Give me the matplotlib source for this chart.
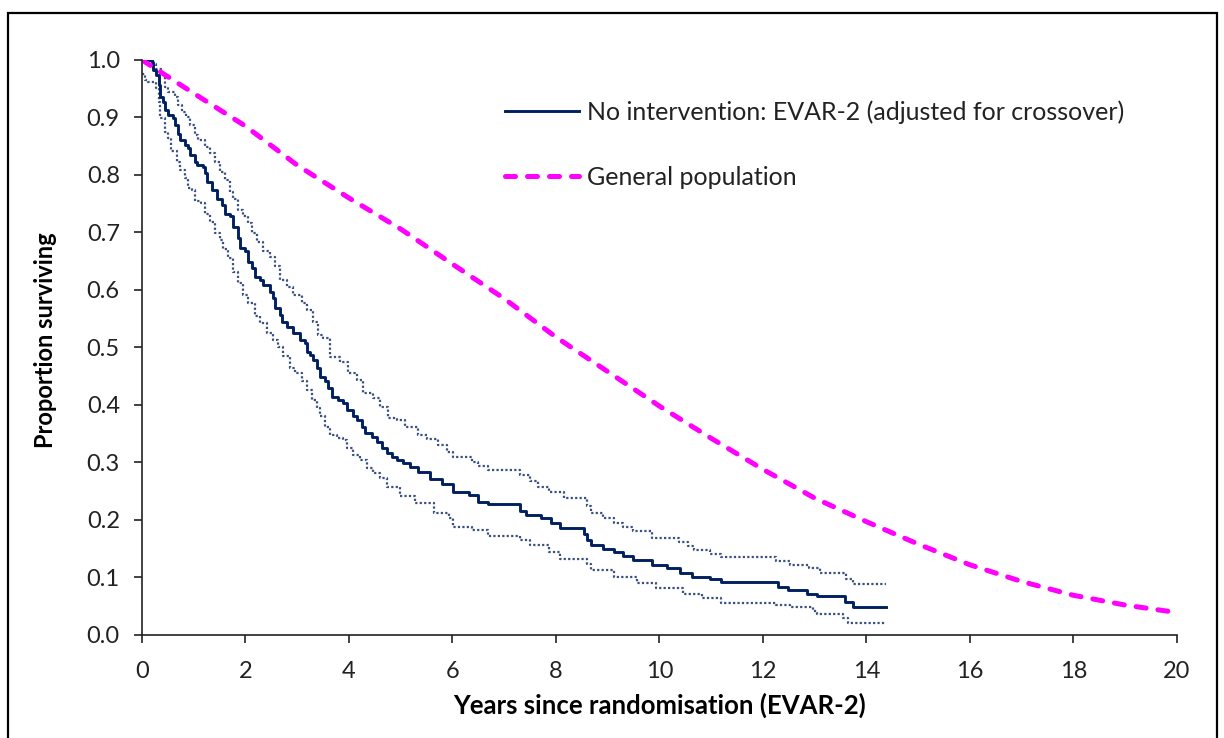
import numpy as np
import matplotlib
matplotlib.use("Agg")
import matplotlib.pyplot as plt
from matplotlib.patches import Rectangle

plt.rcParams['font.family'] = ['Lato', 'DejaVu Sans']

# no intervention (EVAR-2, adjusted for crossover): step points
km_t = [0, 0.19, 0.22, 0.28, 0.32, 0.35, 0.41, 0.44, 0.51, 0.60, 0.64, 0.70, 0.73,
        0.83, 0.89, 0.93, 1.02, 1.06, 1.18, 1.22, 1.25, 1.35, 1.44, 1.54, 1.60, 1.70,
        1.76, 1.86, 1.89, 1.99, 2.05, 2.12, 2.18, 2.28, 2.34, 2.47, 2.54, 2.57, 2.67,
        2.70, 2.80, 2.92, 3.05, 3.15, 3.18, 3.25, 3.31, 3.38, 3.44, 3.54, 3.60, 3.67,
        3.79, 3.89, 3.96, 4.08, 4.15, 4.25, 4.31, 4.44, 4.54, 4.63, 4.73, 4.83, 4.92,
        5.05, 5.18, 5.34, 5.57, 5.79, 6.01, 6.31, 6.49, 6.68, 7.30, 7.42, 7.72, 7.90,
        8.08, 8.55, 8.60, 8.67, 8.90, 9.12, 9.30, 9.49, 9.86, 10.15, 10.40, 10.63,
        10.97, 11.19, 12.29, 12.48, 12.85, 13.04, 13.58, 13.74, 14.38]
km_s = [1.0, 0.997, 0.983, 0.974, 0.957, 0.936, 0.927, 0.913, 0.904, 0.899, 0.887,
        0.872, 0.861, 0.852, 0.847, 0.835, 0.823, 0.817, 0.814, 0.803, 0.788, 0.774,
        0.759, 0.748, 0.733, 0.728, 0.710, 0.690, 0.673, 0.667, 0.649, 0.638, 0.623,
        0.617, 0.609, 0.597, 0.586, 0.568, 0.557, 0.545, 0.536, 0.525, 0.513, 0.507,
        0.493, 0.487, 0.478, 0.464, 0.449, 0.441, 0.429, 0.414, 0.409, 0.403, 0.391,
        0.380, 0.374, 0.362, 0.351, 0.345, 0.336, 0.325, 0.316, 0.310, 0.304, 0.299,
        0.293, 0.284, 0.272, 0.262, 0.248, 0.243, 0.232, 0.227, 0.215, 0.209, 0.203,
        0.195, 0.186, 0.175, 0.165, 0.157, 0.150, 0.145, 0.138, 0.130, 0.122, 0.116,
        0.108, 0.101, 0.097, 0.092, 0.084, 0.079, 0.072, 0.067, 0.058, 0.048, 0.048]

# upper 95% CI
up_t = [0, 0.22, 0.28, 0.38, 0.44, 0.51, 0.64, 0.70, 0.77, 0.86, 0.93, 1.02, 1.09,
        1.22, 1.31, 1.41, 1.51, 1.60, 1.70, 1.76, 1.86, 1.96, 2.05, 2.12, 2.22, 2.34,
        2.47, 2.57, 2.67, 2.80, 2.92, 3.09, 3.18, 3.31, 3.41, 3.50, 3.63, 3.83, 3.99,
        4.15, 4.28, 4.47, 4.60, 4.76, 4.92, 5.08, 5.34, 5.50, 5.72, 5.90, 6.01, 6.38,
        6.50, 6.68, 7.30, 7.49, 7.65, 7.86, 8.15, 8.60, 8.67, 8.90, 9.12, 9.30, 9.49,
        9.86, 10.37, 10.55, 10.67, 10.97, 11.19, 12.25, 12.52, 12.89, 13.11, 13.60,
        13.74, 14.38]
up_s = [1.0, 0.993, 0.985, 0.974, 0.953, 0.945, 0.936, 0.922, 0.910, 0.901, 0.887,
        0.870, 0.861, 0.849, 0.838, 0.823, 0.806, 0.791, 0.771, 0.759, 0.739, 0.728,
        0.716, 0.699, 0.684, 0.667, 0.658, 0.641, 0.617, 0.606, 0.591, 0.577, 0.565,
        0.545, 0.522, 0.516, 0.484, 0.475, 0.455, 0.443, 0.420, 0.412, 0.397, 0.377,
        0.374, 0.362, 0.348, 0.340, 0.330, 0.318, 0.310, 0.301, 0.294, 0.287, 0.278,
        0.267, 0.258, 0.249, 0.238, 0.225, 0.212, 0.203, 0.195, 0.188, 0.180, 0.168,
        0.162, 0.155, 0.148, 0.141, 0.135, 0.128, 0.122, 0.116, 0.107, 0.098, 0.089,
        0.089]

# lower 95% CI
lo_t = [0, 0.05, 0.12, 0.28, 0.32, 0.35, 0.44, 0.51, 0.57, 0.67, 0.73, 0.83, 0.89,
        0.96, 1.02, 1.15, 1.22, 1.31, 1.41, 1.51, 1.57, 1.67, 1.76, 1.86, 1.96, 2.05,
        2.18, 2.28, 2.41, 2.54, 2.63, 2.73, 2.86, 2.96, 3.09, 3.18, 3.28, 3.38, 3.44,
        3.54, 3.63, 3.76, 3.89, 3.96, 4.08, 4.21, 4.34, 4.47, 4.60, 4.73, 4.98, 5.27,
        5.64, 5.93, 6.01, 6.38, 6.68, 7.30, 7.49, 7.86, 8.08, 8.60, 8.67, 9.12, 9.56,
        9.93, 10.45, 10.82, 11.19, 12.25, 12.52, 12.96, 13.04, 13.55, 13.65, 14.38]
lo_s = [0.975, 0.965, 0.962, 0.951, 0.927, 0.899, 0.875, 0.864, 0.841, 0.823, 0.809,
        0.794, 0.777, 0.774, 0.754, 0.751, 0.733, 0.719, 0.699, 0.687, 0.672, 0.655,
        0.632, 0.612, 0.591, 0.577, 0.554, 0.542, 0.525, 0.513, 0.501, 0.485, 0.464,
        0.455, 0.441, 0.426, 0.409, 0.394, 0.380, 0.362, 0.348, 0.342, 0.339, 0.325,
        0.313, 0.304, 0.290, 0.281, 0.273, 0.258, 0.241, 0.229, 0.213, 0.203, 0.188,
        0.183, 0.173, 0.165, 0.157, 0.145, 0.133, 0.123, 0.113, 0.101, 0.090, 0.081,
        0.072, 0.064, 0.056, 0.052, 0.048, 0.041, 0.037, 0.030, 0.020, 0.020]

# general population
pop_t = list(range(0, 21))
pop_s = [1.0, 0.942, 0.885, 0.817, 0.760, 0.706, 0.645, 0.585, 0.518, 0.458, 0.398,
         0.342, 0.288, 0.238, 0.197, 0.158, 0.122, 0.093, 0.069, 0.052, 0.039]

navy = '#002060'
ci_col = '#3A5080'
pink = '#FF00FF'

fig = plt.figure(figsize=(12.24, 7.38), dpi=100)
ax = fig.add_axes([0.116, 0.1396, 0.8456, 0.7791])

ax.plot(up_t, up_s, drawstyle='steps-post', color=ci_col, lw=1.6, ls=(0, (1, 1)))
ax.plot(lo_t, lo_s, drawstyle='steps-post', color=ci_col, lw=1.6, ls=(0, (1, 1)))
ax.plot(km_t, km_s, drawstyle='steps-post', color=navy, lw=2.1,
        label='No intervention: EVAR-2 (adjusted for crossover)')
ax.plot(pop_t, pop_s, color=pink, lw=3.6, ls=(0, (2.0, 2.4)), dash_capstyle='round',
        label='General population')

ax.set_xlim(0, 20)
ax.set_ylim(0, 1.0)
ax.set_xticks(np.arange(0, 21, 2))
ax.set_yticks(np.arange(0, 1.01, 0.1))
ax.set_yticklabels([f'{v:.1f}' for v in np.arange(0, 1.01, 0.1)])

for s in ['top', 'right']:
    ax.spines[s].set_visible(False)
for s in ['left', 'bottom']:
    ax.spines[s].set_color('#222222')
    ax.spines[s].set_linewidth(1.2)

ax.tick_params(axis='both', direction='out', length=6, width=1.2, color='#222222',
               labelsize=17, labelcolor='#222222')
ax.tick_params(axis='y', pad=10)
ax.tick_params(axis='x', pad=13)

ax.set_xlabel('Years since randomisation (EVAR-2)', fontsize=18.5, fontweight='bold',
              color='black')
ax.set_ylabel('Proportion surviving', fontsize=17, fontweight='bold', color='black')
ax.xaxis.set_label_coords(0.5, -0.1)
ax.yaxis.set_label_coords(-0.082, 0.513)

ax.legend(loc='upper left', bbox_to_anchor=(0.351, 0.93), frameon=False,
          fontsize=18, handlelength=2.95, handletextpad=0.3, labelspacing=1.68,
          borderpad=0, borderaxespad=0, labelcolor='#222222')

fig.patches.append(Rectangle((8 / 1224, -0.05), 1209 / 1224, 1 - 13 / 738 + 0.05,
                             transform=fig.transFigure, fill=False, ec='black', lw=1.6))

fig.savefig('out.png', dpi=100)
